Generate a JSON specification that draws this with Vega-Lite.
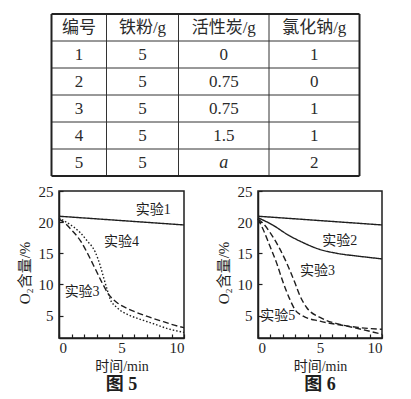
{
  "$schema": "https://vega.github.io/schema/vega-lite/v6.json",
  "padding": {"left": 16, "top": 13, "right": 2, "bottom": 0},
  "background": "white",
  "datasets": {
    "表格": [
      {"行": 0, "列": 1, "文字": "编号"}, {"行": 0, "列": 2, "文字": "铁粉/g"}, {"行": 0, "列": 3, "文字": "活性炭/g"}, {"行": 0, "列": 4, "文字": "氯化钠/g"},
      {"行": 1, "列": 1, "文字": "1"}, {"行": 1, "列": 2, "文字": "5"}, {"行": 1, "列": 3, "文字": "0"}, {"行": 1, "列": 4, "文字": "1"},
      {"行": 2, "列": 1, "文字": "2"}, {"行": 2, "列": 2, "文字": "5"}, {"行": 2, "列": 3, "文字": "0.75"}, {"行": 2, "列": 4, "文字": "0"},
      {"行": 3, "列": 1, "文字": "3"}, {"行": 3, "列": 2, "文字": "5"}, {"行": 3, "列": 3, "文字": "0.75"}, {"行": 3, "列": 4, "文字": "1"},
      {"行": 4, "列": 1, "文字": "4"}, {"行": 4, "列": 2, "文字": "5"}, {"行": 4, "列": 3, "文字": "1.5"}, {"行": 4, "列": 4, "文字": "1"},
      {"行": 5, "列": 1, "文字": "5"}, {"行": 5, "列": 2, "文字": "5"}, {"行": 5, "列": 3, "文字": "a"}, {"行": 5, "列": 4, "文字": "2"}
    ],
    "图5": [
      {"实验": "实验1", "时间": 0, "含量": 20.95}, {"实验": "实验1", "时间": 5, "含量": 20.25}, {"实验": "实验1", "时间": 10, "含量": 19.55},
      {"实验": "实验3", "时间": 0, "含量": 20.5}, {"实验": "实验3", "时间": 0.5, "含量": 19.8}, {"实验": "实验3", "时间": 0.93, "含量": 18.9},
      {"实验": "实验3", "时间": 1.72, "含量": 17.0}, {"实验": "实验3", "时间": 2.38, "含量": 14.6}, {"实验": "实验3", "时间": 2.9, "含量": 12.5},
      {"实验": "实验3", "时间": 3.44, "含量": 10.3}, {"实验": "实验3", "时间": 3.97, "含量": 8.4}, {"实验": "实验3", "时间": 4.63, "含量": 7.1},
      {"实验": "实验3", "时间": 5.5, "含量": 6.1}, {"实验": "实验3", "时间": 6.2, "含量": 5.5}, {"实验": "实验3", "时间": 7.0, "含量": 4.9},
      {"实验": "实验3", "时间": 8.07, "含量": 4.2}, {"实验": "实验3", "时间": 9.0, "含量": 3.6}, {"实验": "实验3", "时间": 10, "含量": 3.05},
      {"实验": "实验4", "时间": 0, "含量": 20.7}, {"实验": "实验4", "时间": 0.5, "含量": 20.1}, {"实验": "实验4", "时间": 1.19, "含量": 19.2},
      {"实验": "实验4", "时间": 1.7, "含量": 18.3}, {"实验": "实验4", "时间": 2.25, "含量": 17.0}, {"实验": "实验4", "时间": 2.9, "含量": 15.2},
      {"实验": "实验4", "时间": 3.3, "含量": 13.0}, {"实验": "实验4", "时间": 3.57, "含量": 11.1}, {"实验": "实验4", "时间": 3.84, "含量": 9.25},
      {"实验": "实验4", "时间": 4.1, "含量": 7.6}, {"实验": "实验4", "时间": 4.63, "含量": 6.3}, {"实验": "实验4", "时间": 5.69, "含量": 5.0},
      {"实验": "实验4", "时间": 6.5, "含量": 4.4}, {"实验": "实验4", "时间": 7.54, "含量": 3.7}, {"实验": "实验4", "时间": 8.7, "含量": 2.9},
      {"实验": "实验4", "时间": 10, "含量": 2.3}
    ],
    "图6": [
      {"实验": "实验1", "时间": 0, "含量": 20.95}, {"实验": "实验1", "时间": 5, "含量": 20.25}, {"实验": "实验1", "时间": 10, "含量": 19.55},
      {"实验": "实验2", "时间": 0, "含量": 20.7}, {"实验": "实验2", "时间": 1.22, "含量": 19.5}, {"实验": "实验2", "时间": 2.3, "含量": 18.1},
      {"实验": "实验2", "时间": 3.65, "含量": 16.7}, {"实验": "实验2", "时间": 4.86, "含量": 15.7}, {"实验": "实验2", "时间": 6.35, "含量": 15.0},
      {"实验": "实验2", "时间": 8.24, "含量": 14.5}, {"实验": "实验2", "时间": 10, "含量": 14.1},
      {"实验": "实验3", "时间": 0, "含量": 20.5}, {"实验": "实验3", "时间": 0.5, "含量": 19.6}, {"实验": "实验3", "时间": 0.95, "含量": 18.4},
      {"实验": "实验3", "时间": 1.76, "含量": 15.7}, {"实验": "实验3", "时间": 2.3, "含量": 13.5}, {"实验": "实验3", "时间": 2.97, "含量": 10.3},
      {"实验": "实验3", "时间": 3.38, "含量": 8.2}, {"实验": "实验3", "时间": 3.92, "含量": 6.3}, {"实验": "实验3", "时间": 5.0, "含量": 4.7},
      {"实验": "实验3", "时间": 6.35, "含量": 3.7}, {"实验": "实验3", "时间": 8.24, "含量": 3.06}, {"实验": "实验3", "时间": 10, "含量": 2.8},
      {"实验": "实验5", "时间": 0, "含量": 20.5}, {"实验": "实验5", "时间": 0.4, "含量": 18.9}, {"实验": "实验5", "时间": 0.95, "含量": 16.2},
      {"实验": "实验5", "时间": 1.49, "含量": 13.5}, {"实验": "实验5", "时间": 2.03, "含量": 10.3}, {"实验": "实验5", "时间": 2.57, "含量": 7.6},
      {"实验": "实验5", "时间": 2.97, "含量": 6.0}, {"实验": "实验5", "时间": 3.65, "含量": 4.9}, {"实验": "实验5", "时间": 5.0, "含量": 4.1},
      {"实验": "实验5", "时间": 7.16, "含量": 3.3}, {"实验": "实验5", "时间": 10, "含量": 2.0}
    ],
    "图5标注": [
      {"文字": "实验1", "时间": 7.54, "含量": 21.9},
      {"文字": "实验4", "时间": 5.0, "含量": 16.8},
      {"文字": "实验3", "时间": 1.85, "含量": 8.8}
    ],
    "图6标注": [
      {"文字": "实验2", "时间": 6.6, "含量": 16.9},
      {"文字": "实验3", "时间": 4.8, "含量": 12.1},
      {"文字": "实验5", "时间": 1.6, "含量": 4.9}
    ]
  },
  "spacing": 6,
  "vconcat": [
    {
      "width": 300,
      "height": 162,
      "view": {"stroke": null},
      "layer": [
        {
          "data": {"values": [{"列": 1.5}, {"列": 2.5}, {"列": 3.5}]},
          "mark": {"type": "rule", "color": "#333", "strokeWidth": 1},
          "encoding": {
            "x": {"field": "列", "type": "quantitative", "scale": {"domain": [0.5, 1.5, 2.5, 3.5, 4.5], "range": [-7.5, 47.5, 119.5, 210, 300.5], "nice": false, "zero": false}, "axis": null},
            "y": {"datum": -0.5, "type": "quantitative", "scale": {"domain": [-0.5, 5.5], "range": [0, 162], "nice": false, "zero": false}, "axis": null},
            "y2": {"datum": 5.5}
          }
        },
        {
          "data": {"values": [{"行": 0.5}, {"行": 1.5}, {"行": 2.5}, {"行": 3.5}, {"行": 4.5}]},
          "mark": {"type": "rule", "color": "#333", "strokeWidth": 1},
          "encoding": {
            "y": {"field": "行", "type": "quantitative", "scale": {"domain": [-0.5, 5.5], "range": [0, 162], "nice": false, "zero": false}, "axis": null},
            "x": {"datum": 0.5, "type": "quantitative", "scale": {"domain": [0.5, 1.5, 2.5, 3.5, 4.5], "range": [-7.5, 47.5, 119.5, 210, 300.5], "nice": false, "zero": false}, "axis": null},
            "x2": {"datum": 4.5}
          }
        },
        {
          "data": {"values": [{"列": 0.5}, {"列": 4.5}]},
          "mark": {"type": "rule", "color": "#222", "strokeWidth": 2},
          "encoding": {
            "x": {"field": "列", "type": "quantitative", "scale": {"domain": [0.5, 1.5, 2.5, 3.5, 4.5], "range": [-7.5, 47.5, 119.5, 210, 300.5], "nice": false, "zero": false}, "axis": null},
            "y": {"datum": -0.5, "type": "quantitative", "scale": {"domain": [-0.5, 5.5], "range": [0, 162], "nice": false, "zero": false}, "axis": null},
            "y2": {"datum": 5.5}
          }
        },
        {
          "data": {"values": [{"行": -0.5}, {"行": 5.5}]},
          "mark": {"type": "rule", "color": "#222", "strokeWidth": 2},
          "encoding": {
            "y": {"field": "行", "type": "quantitative", "scale": {"domain": [-0.5, 5.5], "range": [0, 162], "nice": false, "zero": false}, "axis": null},
            "x": {"datum": 0.5, "type": "quantitative", "scale": {"domain": [0.5, 1.5, 2.5, 3.5, 4.5], "range": [-7.5, 47.5, 119.5, 210, 300.5], "nice": false, "zero": false}, "axis": null},
            "x2": {"datum": 4.5}
          }
        },
        {
          "data": {"name": "表格"},
          "transform": [{"filter": "datum['文字'] !== 'a'"}],
          "mark": {"type": "text", "font": "Liberation Serif, Noto Sans CJK SC", "fontSize": 17, "color": "#2b2b2b", "baseline": "middle", "align": "center"},
          "encoding": {
            "x": {"field": "列", "type": "quantitative", "scale": {"domain": [0.5, 1.5, 2.5, 3.5, 4.5], "range": [-7.5, 47.5, 119.5, 210, 300.5], "nice": false, "zero": false}, "axis": null},
            "y": {"field": "行", "type": "quantitative", "scale": {"domain": [-0.5, 5.5], "range": [0, 162], "nice": false, "zero": false}, "axis": null},
            "text": {"field": "文字"}
          }
        },
        {
          "data": {"name": "表格"},
          "transform": [{"filter": "datum['文字'] === 'a'"}],
          "mark": {"type": "text", "font": "Liberation Serif", "fontSize": 18, "fontStyle": "italic", "color": "#2b2b2b", "baseline": "middle", "align": "center"},
          "encoding": {
            "x": {"field": "列", "type": "quantitative", "scale": {"domain": [0.5, 1.5, 2.5, 3.5, 4.5], "range": [-7.5, 47.5, 119.5, 210, 300.5], "nice": false, "zero": false}, "axis": null},
            "y": {"field": "行", "type": "quantitative", "scale": {"domain": [-0.5, 5.5], "range": [0, 162], "nice": false, "zero": false}, "axis": null},
            "text": {"field": "文字"}
          }
        }
      ]
    },
    {
      "spacing": 27,
      "hconcat": [
        {
          "width": 125,
          "height": 147,
          "title": {"text": "图 5"},
          "encoding": {
            "x": {"field": "时间", "type": "quantitative", "scale": {"domain": [0, 10], "nice": false}, "axis": {"title": "时间/min", "values": [0, 1, 2, 3, 4, 5, 6, 7, 8, 9, 10], "labelExpr": "datum.value % 5 === 0 ? datum.label : ''"}},
            "y": {"field": "含量", "type": "quantitative", "scale": {"domain": [1.4, 25], "nice": false, "zero": false}, "axis": {"title": "O₂含量/%", "values": [5, 10, 15, 20, 25]}}
          },
          "layer": [
            {
              "data": {"name": "图5"},
              "mark": {"type": "line", "interpolate": "monotone", "color": "#1e1e1e", "strokeWidth": 1.4},
              "encoding": {
                "strokeDash": {"field": "实验", "type": "nominal", "scale": {"domain": ["实验1", "实验3", "实验4"], "range": [[1, 0], [6, 3], [1.5, 2]]}, "legend": null}
              }
            },
            {
              "data": {"name": "图5标注"},
              "mark": {"type": "text", "font": "Liberation Serif, Noto Sans CJK SC", "fontSize": 14, "color": "#1e1e1e"},
              "encoding": {"text": {"field": "文字"}}
            }
          ]
        },
        {
          "width": 124,
          "height": 147,
          "title": {"text": "图 6"},
          "encoding": {
            "x": {"field": "时间", "type": "quantitative", "scale": {"domain": [0, 10], "nice": false}, "axis": {"title": "时间/min", "values": [0, 1, 2, 3, 4, 5, 6, 7, 8, 9, 10], "labelExpr": "datum.value % 5 === 0 ? datum.label : ''"}},
            "y": {"field": "含量", "type": "quantitative", "scale": {"domain": [1.4, 25], "nice": false, "zero": false}, "axis": {"title": "O₂含量/%", "values": [5, 10, 15, 20, 25]}}
          },
          "layer": [
            {
              "data": {"name": "图6"},
              "mark": {"type": "line", "interpolate": "monotone", "color": "#1e1e1e", "strokeWidth": 1.4},
              "encoding": {
                "strokeDash": {"field": "实验", "type": "nominal", "scale": {"domain": ["实验1", "实验2", "实验3", "实验5"], "range": [[1, 0], [1, 0], [6, 3], [1.5, 2]]}, "legend": null}
              }
            },
            {
              "data": {"name": "图6标注"},
              "mark": {"type": "text", "font": "Liberation Serif, Noto Sans CJK SC", "fontSize": 14, "color": "#1e1e1e"},
              "encoding": {"text": {"field": "文字"}}
            }
          ]
        }
      ]
    }
  ],
  "config": {
    "view": {"stroke": "#1e1e1e", "strokeWidth": 1.5},
    "axis": {
      "grid": false,
      "domainColor": "#1e1e1e",
      "domainWidth": 1.5,
      "tickColor": "#1e1e1e",
      "tickWidth": 1.2,
      "tickSize": -4,
      "labelColor": "#1e1e1e",
      "titleColor": "#1e1e1e",
      "labelFont": "Liberation Serif",
      "labelFontSize": 15,
      "titleFont": "Liberation Serif, Noto Sans CJK SC",
      "titleFontSize": 14,
      "titleFontWeight": "normal"
    },
    "axisX": {"labelPadding": 6, "titlePadding": 4},
    "axisY": {"labelPadding": 10, "titlePadding": 6, "titleFontSize": 15, "titleY": 81.5},
    "title": {"orient": "bottom", "font": "Liberation Serif, Noto Sans CJK SC", "fontSize": 18, "fontWeight": "bold", "color": "#1e1e1e", "offset": 3}
  }
}
